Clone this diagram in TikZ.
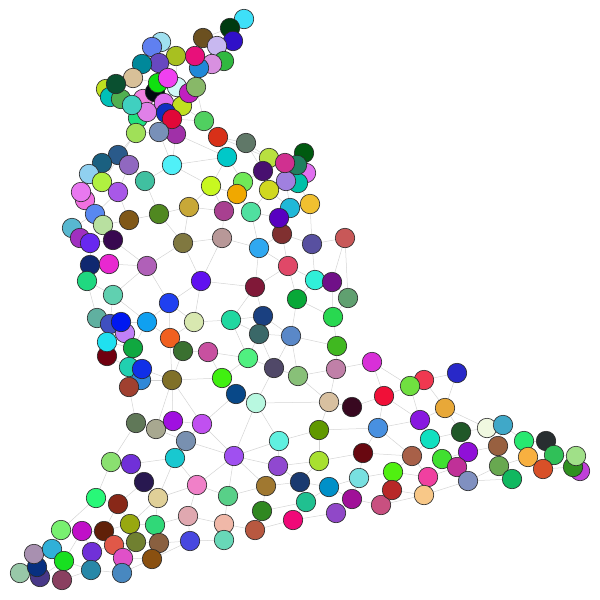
\documentclass[tikz,border=0pt]{standalone}
\usetikzlibrary{backgrounds}

\tikzset{
    vertex/.style={circle, draw=black!85, line width=0.6pt, minimum size=19.5pt, inner sep=0pt},
    link/.style={draw=black!17, line width=0.5pt}
}

\begin{document}
\begin{tikzpicture}[x=1pt, y=-1pt]
    \useasboundingbox (0,0) rectangle (600,600);

    % Vertices: number / x / y / colour
    \foreach \n/\px/\py/\col in {
        1/244/19/3EE0F8, 2/230/28/003A10, 3/233/41/3010C8, 4/203/38/6B5020,
        5/217/46/C8B8F0, 6/224/61/30B840, 7/212/64/D890E0, 8/199/68/2088D8,
        9/195/56/E8107A, 10/176/56/A8C020, 11/161/42/A0E0F0, 12/152/47/6080F0,
        13/159/63/6848C0, 14/142/64/00889A, 15/133/78/D8C098, 16/106/89/C0E020,
        17/110/97/00C0B8, 18/121/99/50B050, 19/116/84/0A5030, 21/143/99/F080E0,
        22/138/118/20E080, 23/147/112/E080E8, 20/132/105/40D0C0, 24/155/92/000A10,
        25/158/83/10E010, 26/164/103/E070F0, 27/177/87/D0F8F8, 28/182/106/C0E020,
        29/189/93/C020C0, 30/196/87/88B868, 31/168/78/F040F0, 32/166/113/1030C0,
        34/176/134/A030A8, 33/172/119/E00838, 35/159/132/7890B8, 36/136/133/A0E058,
        37/204/121/50D060, 38/218/137/D83018, 39/246/143/607868,
        40/227/157/00C8C8, 41/269/158/B8E040, 42/304/153/005A10, 43/306/173/E070F0,
        47/298/183/00C0A8, 44/297/165/208060, 48/286/181/A080E0, 45/285/163/D03090,
        46/263/171/481070, 49/243/182/70E858, 50/237/194/F0A800, 51/211/186/C8F820,
        52/269/190/D0D820, 53/224/211/A84090, 54/251/212/50E0A0, 55/290/208/20B8D8,
        56/310/204/F0C030, 58/282/234/803030, 57/279/218/5800C0, 59/222/238/B89898,
        60/259/248/30A8F0, 61/312/244/5850A0, 62/345/238/C85858,
        63/118/155/2A5A8A, 64/102/163/1A6080, 65/129/165/9068C0, 66/172/165/50F0F8,
        67/89/174/90D0F0, 68/102/182/B0F040, 69/145/181/40C0A0, 70/85/200/F070E0,
        71/81/192/E878F0, 72/118/192/A858E8, 73/95/214/5888F0, 74/103/225/B8E0A0,
        75/129/220/805818, 76/159/214/508820, 77/189/207/C8A838, 78/72/228/58B8D0,
        79/80/238/A030C0, 80/90/243/6828F0, 81/113/240/380850, 82/183/243/807840,
        83/90/265/102870, 84/109/264/E828D0, 85/147/266/B060B8, 86/87/281/20D880,
        87/201/281/6010F0, 88/113/295/60D0B0, 89/169/303/2040F0, 90/97/318/60B0A0,
        91/110/324/4050C0, 92/125/333/C080F8, 93/121/322/0018F0, 94/147/322/10A0F0,
        95/194/322/D8E8B0, 96/231/320/20D8A0, 97/170/338/F06020, 98/183/351/3A7030,
        99/208/352/C850A0, 100/107/356/700010, 101/107/342/20E0F0, 102/133/348/10A840,
        103/129/367/20D0B0, 104/141/380/3088D8, 105/142/369/1030E8, 106/129/387/A04030,
        107/172/380/807028, 108/222/378/40F010, 109/236/394/084888, 110/248/358/50F080,
        111/136/423/607858, 112/156/429/A8A890, 113/173/421/A010E0, 114/202/424/C050F0,
        115/186/441/7890B0,
        116/288/266/E04868, 117/255/287/801838, 118/315/280/30F0D8, 119/332/282/701088,
        120/297/299/08A838, 121/348/298/60A070, 122/263/316/1A4080, 123/259/334/3A6868,
        124/291/336/5A88C8, 125/333/317/28D850, 126/337/346/40B820, 127/274/368/504868,
        128/298/376/88C078, 129/336/369/C080A8, 130/372/362/D830D8, 131/256/403/B8F8E0,
        132/329/402/D8C0A0, 133/352/407/380820, 134/384/396/F01038, 135/424/380/F03850,
        136/410/386/70E040, 137/457/373/2828C8, 138/445/408/E8A838, 139/420/420/8818E0,
        140/378/428/4890E0, 141/319/430/609800, 142/430/439/10E0C0, 143/363/453/680810,
        144/319/461/A8E030, 145/412/456/A86048, 146/442/459/40E030,
        147/461/432/205828, 148/487/428/F0F8E0, 149/503/425/40A8C8, 150/468/452/9010D8,
        151/498/446/986040, 152/524/441/28E870, 153/546/441/282E30, 154/457/467/C03098,
        155/499/466/68A850, 156/528/457/F8B040, 157/554/455/30C058, 158/512/479/10B860,
        159/543/469/D85028, 160/468/481/8090C0, 161/580/471/C040D8, 162/573/467/309020,
        163/576/456/A0E088,
        164/234/456/A050F0, 165/279/441/60F0E0, 166/278/466/9048D0, 167/359/478/78E0E0,
        168/228/496/58D088, 169/266/486/A07830, 170/300/482/1A3A70, 171/329/487/0090C8,
        172/306/502/20C090, 173/352/499/A01098, 174/336/513/9048C8, 175/381/505/C85080,
        176/262/511/308820, 177/293/520/F00878, 178/224/524/F0B8A8, 179/255/530/B85840,
        180/224/540/68D8B8, 181/190/541/4848E0, 182/393/472/50F010, 183/392/490/B82828,
        184/428/477/F040A0, 185/424/495/F8C888,
        186/111/462/8AE070, 187/131/464/7030D8, 188/144/482/281850, 189/175/458/18C8D0,
        190/197/485/F080C8, 191/96/498/28F878, 192/118/504/882818, 193/158/498/E0D098,
        194/61/530/78F070, 195/82/531/C010C8, 196/104/531/602008, 197/130/524/98A810,
        198/155/525/30D878, 199/188/516/E0A8B0, 203/20/573/98C8A8, 204/40/577/483888,
        202/37/567/083080, 201/34/554/A890B0, 200/52/549/30B0D8, 205/64/561/18E020,
        206/62/580/8A4060, 207/92/552/7030D8, 209/91/570/2888A8, 208/114/545/E05848,
        210/136/542/708030, 211/159/543/8A6040, 212/123/558/E050C8, 213/122/573/4888C0,
        214/152/559/8A5010}
    {
        \definecolor{vcol}{HTML}{\col}
        \node[vertex, fill=vcol] (v\n) at (\px,\py) {};
    }

    % Links
    \begin{scope}[on background layer]
        \foreach \a/\b in {
            1/2, 1/3, 2/3, 2/4, 3/5, 4/5, 4/9, 5/6, 5/7, 6/7, 7/8, 8/9, 9/10, 10/13,
            11/12, 12/13, 13/14, 14/15, 15/19, 19/16, 16/17, 17/18, 18/20, 20/21,
            21/24, 24/25, 25/31, 31/27, 27/29, 29/30, 30/8, 27/10, 24/26, 26/23,
            23/22, 22/20, 26/32, 32/33, 33/28, 28/29, 32/35, 33/34, 34/35, 35/36,
            36/22, 30/37, 37/33, 37/38, 38/39, 28/37, 10/25, 15/25,
            36/63, 35/66, 34/66, 34/40, 37/40, 38/40, 38/41, 39/41, 39/46, 40/49,
            40/51, 40/66, 41/45, 41/46, 42/44, 42/43, 43/47, 44/45, 44/47, 45/48,
            46/52, 47/48, 47/56, 48/52, 48/55, 49/50, 49/46, 50/51, 50/53, 50/54,
            51/53, 51/77, 52/54, 52/55, 53/59, 54/57, 54/60, 55/56, 55/57, 56/61,
            57/58, 58/60, 58/61, 58/116, 59/60, 59/82, 59/87, 60/116, 60/117,
            61/62, 61/118, 62/119, 62/121, 53/77, 66/69, 66/51,
            63/64, 63/65, 64/67, 65/69, 65/72, 67/68, 67/71, 68/72, 68/36, 71/70,
            70/73, 72/73, 72/75, 73/74, 74/75, 74/81, 75/76, 76/69, 76/77, 76/82,
            77/82, 78/79, 79/80, 80/81, 78/73, 80/83, 81/85, 82/85, 82/87, 83/84,
            83/86, 84/85, 85/88, 85/89, 86/88, 86/90, 87/89, 87/117, 87/95, 88/91,
            88/94, 89/94, 89/95, 89/97, 90/91, 91/93, 93/92, 92/101, 93/94, 94/97,
            94/102, 95/96, 95/97, 96/117, 96/122, 96/123, 96/110, 97/98, 97/107,
            98/99, 98/107, 99/110, 99/108, 100/101, 100/103, 101/102, 102/103,
            103/105, 105/104, 104/106, 104/107, 105/107, 106/111, 107/108, 107/113,
            107/112, 107/114, 108/109, 108/110, 109/131, 109/114, 110/123, 110/127,
            111/112, 111/186, 112/113, 112/115, 113/114, 114/115, 114/164, 115/189,
            115/164,
            116/117, 116/118, 116/120, 117/122, 118/119, 118/120, 119/121, 119/125,
            120/124, 120/125, 121/125, 122/123, 122/124, 123/124, 123/127, 124/127,
            124/128, 124/126, 125/126, 126/129, 127/128, 127/131, 128/129, 128/132,
            129/130, 129/132, 130/134, 130/136, 131/132, 131/165, 131/164, 132/133,
            132/141, 133/134, 134/136, 134/139, 134/140, 135/136, 135/137, 135/138,
            136/139, 137/138, 138/139, 138/147, 138/148, 139/140, 139/142, 140/141,
            140/143, 140/145, 141/144, 141/165, 142/145, 142/147, 142/146, 143/144,
            143/167, 143/145, 144/166, 144/170, 145/182, 145/184, 146/150, 146/154,
            147/150, 147/148, 148/149, 149/151, 149/152, 150/151, 150/154, 151/155,
            152/153, 152/156, 153/157, 154/160, 155/158, 155/156, 156/159, 157/163,
            158/160, 159/162, 161/162, 162/163, 157/159, 155/160,
            164/165, 164/166, 164/168, 164/169, 165/166, 166/169, 166/170, 167/171,
            167/182, 167/173, 168/169, 168/178, 168/190, 169/170, 169/176, 170/171,
            170/172, 171/172, 171/173, 172/176, 172/177, 173/174, 173/175, 174/177,
            175/183, 176/179, 177/179, 178/179, 178/180, 178/199, 180/181, 181/199,
            182/183, 182/184, 183/185, 184/185, 184/154, 185/160, 175/185, 190/199,
            190/189, 190/193, 188/193, 189/193, 164/190,
            186/187, 186/191, 187/188, 187/189, 188/192, 191/192, 191/194, 192/196,
            192/197, 193/197, 193/198, 197/198, 198/199, 198/211, 197/210, 196/197,
            195/196, 194/195, 194/200, 195/205, 195/207, 196/207, 196/208, 200/201,
            200/205, 201/202, 202/203, 202/204, 203/204, 204/205, 205/206, 205/209,
            206/209, 207/209, 207/208, 208/212, 208/210, 209/213, 212/213, 210/211,
            210/212, 211/214, 212/214, 213/214, 211/181, 214/181}
        {
            \draw[link] (v\a) -- (v\b);
        }
    \end{scope}
\end{tikzpicture}
\end{document}
